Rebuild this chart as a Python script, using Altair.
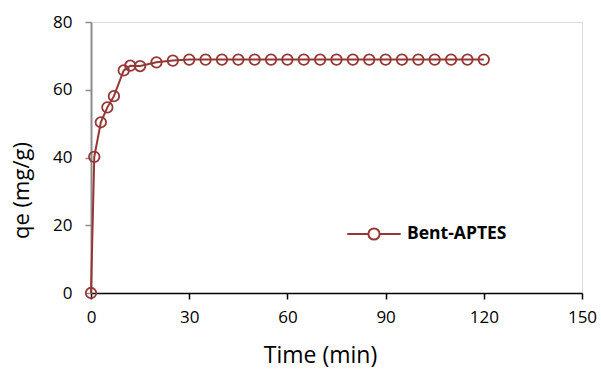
import altair as alt
import pandas as pd

time_min = [0, 1, 3, 5, 7, 10, 12, 15, 20, 25, 30, 35, 40, 45, 50, 55, 60, 65, 70,
            75, 80, 85, 90, 95, 100, 105, 110, 115, 120]
qe = [0, 40.2, 50.4, 54.8, 58.1, 65.7, 67.1, 67.0, 68.1, 68.6, 68.9, 68.9, 68.9,
      68.9, 68.9, 68.9, 68.9, 68.9, 68.9, 68.9, 68.9, 68.9, 68.9, 68.9, 68.9,
      68.9, 68.9, 68.9, 68.9]
series_name = "Bent-APTES"

df = pd.DataFrame({"t": time_min, "qe": qe, "series": [series_name] * len(time_min)})

RED = "#953735"
FONT = "Open Sans"

x = alt.X("t:Q", title="Time (min)",
          scale=alt.Scale(domain=[0, 150], nice=False, zero=False),
          axis=alt.Axis(values=[0, 30, 60, 90, 120, 150], grid=False, labelFlush=False,
                        domainColor="black", domainWidth=1.5,
                        tickColor="black", tickWidth=1.5, tickSize=6,
                        labelFont=FONT, labelFontSize=17, labelColor="black",
                        labelPadding=10, titleFont=FONT, titleFontSize=23,
                        titleFontWeight="normal", titleColor="black",
                        titleX=229, titleY=69, titleBaseline="alphabetic",
                        titleAlign="center"))
y = alt.Y("qe:Q", title="qe (mg/g)",
          scale=alt.Scale(domain=[0, 80], nice=False),
          axis=alt.Axis(values=[0, 20, 40, 60, 80], grid=False, labelFlush=False,
                        domainColor="#8c8c8c", domainWidth=2,
                        tickColor="#8c8c8c", tickWidth=1.5, tickSize=6,
                        labelFont=FONT, labelFontSize=17, labelColor="black",
                        labelPadding=13, titleFont=FONT, titleFontSize=22,
                        titleFontWeight="normal", titleColor="black",
                        titleX=-63, titleY=168, titleBaseline="alphabetic",
                        titleAlign="center", titleAngle=-90))

color = alt.Color("series:N", scale=alt.Scale(range=[RED]),
                  legend=alt.Legend(title=None, orient="none", legendX=255, legendY=184,
                                    symbolType="M-1,0H-0.21M0.21,0H1M-0.21,0A0.21,0.21 0 1,0 0.21,0A0.21,0.21 0 1,0 -0.21,0",
                                    symbolSize=2850, symbolStrokeWidth=2,
                                    symbolFillColor="white",
                                    labelFont=FONT, labelFontSize=17.5, labelFontWeight="bold",
                                    labelColor="black", labelOffset=5, padding=0))

base = alt.Chart(df)
line = base.mark_line(strokeWidth=2).encode(x=x, y=y, color=color)
pts = base.mark_point(filled=False, size=110, strokeWidth=1.8, opacity=1).encode(x=x, y=y, color=color)

chart = (line + pts).properties(
    width=491, height=271,
    padding={"left": 91, "top": 22, "right": 19, "bottom": 76},
    autosize=alt.AutoSizeParams(type="none"),
).configure_view(stroke="black", strokeWidth=1.5).configure(background="white")

chart.save("out.html", embed_options={"renderer": "svg", "actions": False})
